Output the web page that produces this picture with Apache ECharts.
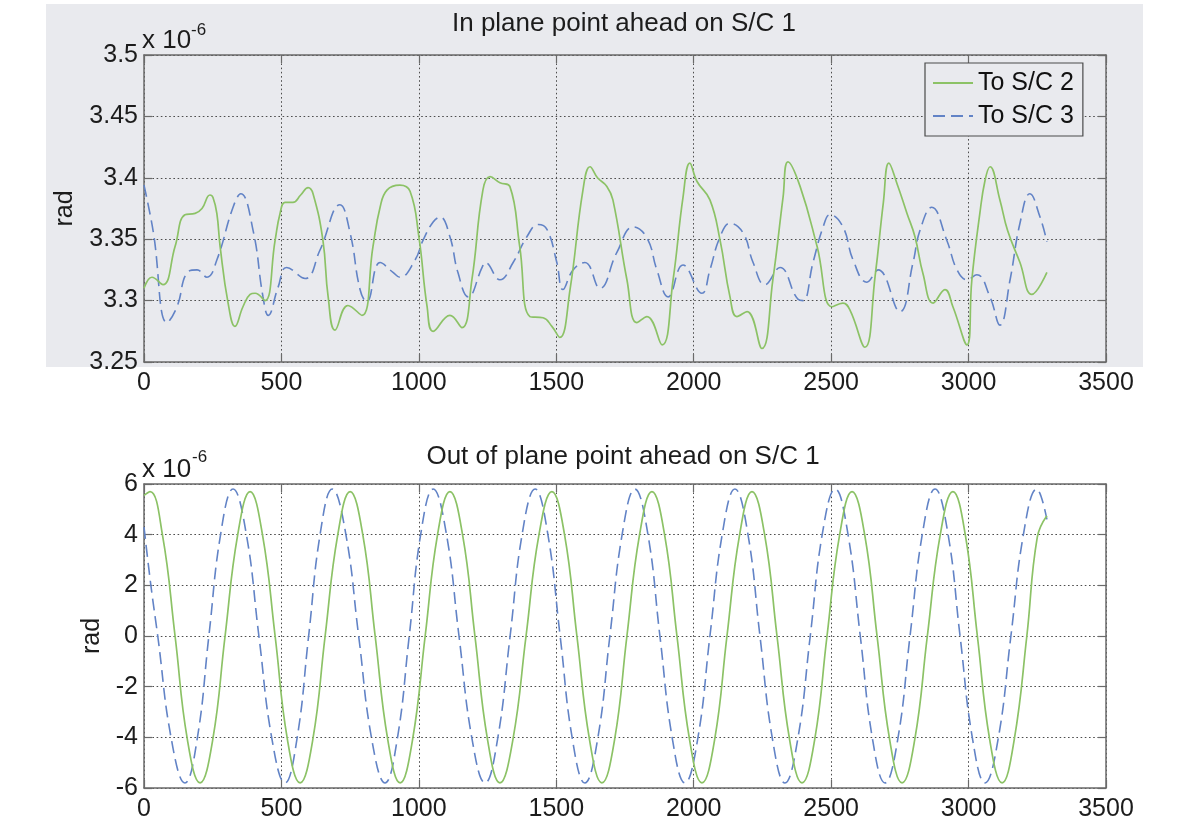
<!DOCTYPE html>
<html>
<head>
<meta charset="utf-8">
<script src="https://cdn.jsdelivr.net/npm/echarts@6/dist/echarts.min.js"></script>
<style>
  html, body { margin: 0; padding: 0; background: #ffffff; }
  #chart { width: 1180px; height: 824px; }
</style>
</head>
<body>
<div id="chart"></div>
<script>
// ---- axis ticks ----
const timeTicks = [0, 500, 1000, 1500, 2000, 2500, 3000, 3500];
const inPlaneTicks = [3.25, 3.3, 3.35, 3.4, 3.45, 3.5];        // x 10^-6 rad
const outOfPlaneTicks = [-6, -4, -2, 0, 2, 4, 6];              // x 10^-6 rad

const seriesNames = ['To S/C 2', 'To S/C 3'];
const panelTitles = ['In plane point ahead on S/C 1', 'Out of plane point ahead on S/C 1'];

// ---- in plane point ahead, towards S/C 2 (x 10^-6 rad) ----
const inPlaneSC2X = [0, 29, 69, 113, 149, 186, 211, 240, 251, 265, 277, 306, 331, 360, 386, 404, 440, 477, 495, 513, 542, 570, 597, 615, 651, 670, 695, 742, 793, 833, 859, 884, 931, 968, 1000, 1030, 1052, 1113, 1157, 1193, 1233, 1259, 1295, 1331, 1367, 1404, 1452, 1484, 1513, 1550, 1597, 1623, 1650, 1684, 1706, 1757, 1793, 1830, 1885, 1925, 1961, 1986, 2012, 2059, 2096, 2132, 2157, 2194, 2248, 2288, 2325, 2343, 2387, 2449, 2503, 2543, 2569, 2623, 2660, 2690, 2710, 2740, 2776, 2805, 2834, 2871, 2914, 2943, 2994, 3012, 3041, 3060, 3078, 3114, 3142, 3187, 3230, 3285];
const inPlaneSC2Y = [3.310, 3.319, 3.313, 3.344, 3.370, 3.371, 3.375, 3.386, 3.384, 3.371, 3.344, 3.298, 3.279, 3.295, 3.305, 3.306, 3.300, 3.349, 3.371, 3.380, 3.380, 3.386, 3.392, 3.387, 3.349, 3.303, 3.276, 3.296, 3.288, 3.344, 3.376, 3.390, 3.394, 3.389, 3.352, 3.295, 3.275, 3.288, 3.278, 3.317, 3.390, 3.401, 3.396, 3.393, 3.344, 3.287, 3.286, 3.279, 3.270, 3.309, 3.390, 3.409, 3.400, 3.393, 3.382, 3.317, 3.282, 3.287, 3.264, 3.317, 3.384, 3.412, 3.397, 3.382, 3.349, 3.303, 3.287, 3.291, 3.261, 3.317, 3.384, 3.413, 3.393, 3.344, 3.295, 3.298, 3.292, 3.262, 3.320, 3.380, 3.412, 3.395, 3.371, 3.352, 3.322, 3.298, 3.309, 3.295, 3.264, 3.317, 3.371, 3.398, 3.409, 3.382, 3.357, 3.331, 3.305, 3.323];

// ---- in plane point ahead, towards S/C 3 (x 10^-6 rad) ----
const inPlaneSC3X = [0, 33, 84, 120, 158, 193, 229, 265, 324, 352, 397, 433, 452, 488, 519, 586, 640, 713, 750, 786, 810, 859, 906, 931, 986, 1015, 1052, 1077, 1113, 1142, 1180, 1230, 1241, 1295, 1343, 1393, 1434, 1466, 1502, 1524, 1561, 1604, 1659, 1720, 1780, 1830, 1866, 1907, 1961, 2030, 2059, 2096, 2132, 2180, 2216, 2259, 2314, 2380, 2398, 2434, 2471, 2496, 2543, 2580, 2630, 2671, 2750, 2798, 2823, 2866, 2921, 2958, 2994, 3030, 3078, 3114, 3151, 3187, 3223, 3260, 3285];
const inPlaneSC3Y = [3.394, 3.357, 3.282, 3.295, 3.323, 3.325, 3.319, 3.333, 3.376, 3.387, 3.357, 3.303, 3.288, 3.311, 3.327, 3.318, 3.341, 3.378, 3.355, 3.309, 3.299, 3.331, 3.323, 3.319, 3.333, 3.349, 3.364, 3.368, 3.352, 3.323, 3.303, 3.327, 3.331, 3.317, 3.331, 3.352, 3.362, 3.358, 3.331, 3.309, 3.325, 3.331, 3.310, 3.339, 3.360, 3.351, 3.325, 3.303, 3.329, 3.306, 3.325, 3.352, 3.363, 3.355, 3.331, 3.313, 3.327, 3.301, 3.300, 3.331, 3.360, 3.370, 3.360, 3.333, 3.315, 3.325, 3.291, 3.331, 3.357, 3.376, 3.349, 3.325, 3.317, 3.321, 3.303, 3.280, 3.317, 3.363, 3.387, 3.368, 3.348];

// ---- out of plane point ahead, towards S/C 2 (x 10^-6 rad) ----
const outPlaneSC2X = [0, 22, 67, 113, 158, 204, 250, 295, 341, 386, 431, 477, 522, 568, 614, 659, 705, 750, 796, 841, 887, 932, 977, 1023, 1068, 1113, 1159, 1204, 1250, 1295, 1342, 1390, 1437, 1484, 1530, 1575, 1621, 1666, 1712, 1757, 1803, 1848, 1894, 1939, 1985, 2030, 2076, 2121, 2167, 2212, 2258, 2303, 2349, 2394, 2440, 2485, 2531, 2576, 2622, 2667, 2713, 2758, 2804, 2850, 2897, 2943, 2988, 3032, 3077, 3122, 3166, 3212, 3250, 3285];
const outPlaneSC2Y = [5.55, 5.7, 4.0, 0, -4.1, -5.8, -4.1, 0, 4.0, 5.7, 4.0, 0, -4.1, -5.8, -4.1, 0, 4.0, 5.7, 4.0, 0, -4.1, -5.8, -4.1, 0, 4.0, 5.7, 4.0, 0, -4.1, -5.8, -4.1, 0, 4.0, 5.7, 4.0, 0, -4.1, -5.8, -4.1, 0, 4.0, 5.7, 4.0, 0, -4.1, -5.8, -4.1, 0, 4.0, 5.7, 4.0, 0, -4.1, -5.8, -4.1, 0, 4.0, 5.7, 4.0, 0, -4.1, -5.8, -4.1, 0, 4.0, 5.7, 4.0, 0, -4.1, -5.8, -4.1, 0, 3.9, 4.75];

// ---- out of plane point ahead, towards S/C 3 (x 10^-6 rad) ----
const outPlaneSC3X = [0, 25, 50, 100, 149, 193, 236, 280, 324, 371, 418, 466, 513, 556, 599, 642, 685, 733, 781, 829, 877, 921, 965, 1008, 1052, 1099, 1146, 1194, 1241, 1286, 1332, 1377, 1423, 1468, 1514, 1559, 1604, 1650, 1695, 1741, 1786, 1832, 1877, 1923, 1968, 2014, 2059, 2105, 2150, 2196, 2241, 2287, 2332, 2378, 2424, 2469, 2515, 2560, 2606, 2651, 2696, 2742, 2787, 2833, 2878, 2924, 2969, 3015, 3060, 3107, 3154, 3201, 3248, 3285];
const outPlaneSC3Y = [4.3, 2.0, 0, -4.1, -5.8, -4.1, 0, 4.1, 5.8, 4.1, 0, -4.1, -5.8, -4.1, 0, 4.1, 5.8, 4.1, 0, -4.1, -5.8, -4.1, 0, 4.1, 5.8, 4.1, 0, -4.1, -5.8, -4.1, 0, 4.1, 5.8, 4.1, 0, -4.1, -5.8, -4.1, 0, 4.1, 5.8, 4.1, 0, -4.1, -5.8, -4.1, 0, 4.1, 5.8, 4.1, 0, -4.1, -5.8, -4.1, 0, 4.1, 5.8, 4.1, 0, -4.1, -5.8, -4.1, 0, 4.1, 5.8, 4.1, 0, -4.1, -5.8, -4.1, 0, 4.1, 5.8, 4.6];

// ---- styling ----
const FONT = '"Liberation Sans", Arial, Helvetica, sans-serif';
const GREEN = '#8cc266';
const BLUE = '#6283c6';
const AXIS_GREY = '#6a6a6a';
const GRID_DOT = '#4d4d4d';
const FIG_GREY = '#e9eaee';
const TEXT = '#1c1c1c';

function pairs(xs, ys) { return xs.map((x, i) => [x, ys[i]]); }
function fmtTick(v) { return String(Math.round(v * 100) / 100); }

const grids = [
  { left: 144, top: 55, width: 962, height: 307 },
  { left: 144, top: 484, width: 962, height: 304 }
];

const labelStyle = { fontFamily: FONT, fontSize: 25, color: TEXT };
const edgeLine = { show: true, onZero: false, lineStyle: { color: AXIS_GREY, width: 1.5 } };
const innerTick = { show: true, inside: true, length: 8, lineStyle: { color: AXIS_GREY, width: 1.2 } };
const dottedGrid = { show: true, lineStyle: { color: GRID_DOT, width: 1, type: [1.6, 2.6] } };

function timeAxis(gridIndex, position, withLabels) {
  return {
    type: 'value', gridIndex, position,
    min: timeTicks[0], max: timeTicks[timeTicks.length - 1], interval: timeTicks[1] - timeTicks[0],
    axisLine: edgeLine, axisTick: innerTick,
    axisLabel: withLabels ? Object.assign({ margin: 9, formatter: fmtTick }, labelStyle) : { show: false },
    splitLine: withLabels ? dottedGrid : { show: false }
  };
}
function radAxis(gridIndex, ticks, position, nameGap) {
  const main = position === 'left';
  const axis = {
    type: 'value', gridIndex, position,
    min: ticks[0], max: ticks[ticks.length - 1], interval: ticks[1] - ticks[0],
    axisLine: edgeLine, axisTick: innerTick,
    axisLabel: main ? Object.assign({ margin: 6, formatter: fmtTick }, labelStyle) : { show: false },
    splitLine: main ? dottedGrid : { show: false }
  };
  if (main) {
    Object.assign(axis, {
      name: 'rad', nameLocation: 'middle', nameGap, nameRotate: 90,
      nameTextStyle: { fontFamily: FONT, fontSize: 25, color: TEXT }
    });
  }
  return axis;
}

function lineSeries(name, axisIndex, data, dashed) {
  return {
    name, type: 'line', xAxisIndex: axisIndex, yAxisIndex: axisIndex, data,
    smooth: 0.45, showSymbol: false, symbol: 'none', animation: false,
    lineStyle: dashed
      ? { color: BLUE, width: 1.6, type: [12, 6] }
      : { color: GREEN, width: 1.7, type: 'solid' },
    itemStyle: { color: dashed ? BLUE : GREEN },
    z: dashed ? 3 : 4
  };
}

// scale label "x 10^-6" above each panel's y axis
function scaleLabel(xBase, yBase, xExp, yExp) {
  return [
    { type: 'text', x: xBase, y: yBase, z: 10,
      style: { text: 'x 10', font: '26px ' + FONT, fill: TEXT, verticalAlign: 'middle' } },
    { type: 'text', x: xExp, y: yExp, z: 10,
      style: { text: '-6', font: '17px ' + FONT, fill: TEXT, verticalAlign: 'middle' } }
  ];
}

const chart = echarts.init(document.getElementById('chart'), null, { renderer: 'canvas' });

chart.setOption({
  animation: false,
  backgroundColor: '#ffffff',
  grid: grids.map(g => Object.assign({ containLabel: false }, g)),
  xAxis: [timeAxis(0, 'bottom', true), timeAxis(0, 'top', false), timeAxis(1, 'bottom', true), timeAxis(1, 'top', false)],
  yAxis: [
    radAxis(0, inPlaneTicks, 'left', 66), radAxis(0, inPlaneTicks, 'right'),
    radAxis(1, outOfPlaneTicks, 'left', 30), radAxis(1, outOfPlaneTicks, 'right')
  ],
  legend: {
    data: seriesNames,
    orient: 'vertical',
    left: 925, top: 63,
    itemWidth: 40, itemHeight: 14, itemGap: 3,
    padding: [5, 9, 5, 7],
    borderColor: '#4a4a4a', borderWidth: 1.2,
    backgroundColor: FIG_GREY,
    itemStyle: { opacity: 0 },
    lineStyle: { opacity: 1 },
    textStyle: { fontFamily: FONT, fontSize: 25, color: '#111', lineHeight: 30 }
  },
  series: [
    lineSeries(seriesNames[0], 0, pairs(inPlaneSC2X, inPlaneSC2Y), false),
    lineSeries(seriesNames[1], 0, pairs(inPlaneSC3X, inPlaneSC3Y), true),
    lineSeries(seriesNames[0], 2, pairs(outPlaneSC2X, outPlaneSC2Y), false),
    lineSeries(seriesNames[1], 2, pairs(outPlaneSC3X, outPlaneSC3Y), true)
  ],
  graphic: [
    { type: 'rect', z: -100, silent: true,
      shape: { x: 46, y: 4, width: 1097, height: 363 },
      style: { fill: FIG_GREY } },
    { type: 'text', x: 624, y: 24, z: 10,
      style: { text: panelTitles[0], font: '26px ' + FONT, fill: TEXT, align: 'center', verticalAlign: 'middle' } },
    { type: 'text', x: 623, y: 457, z: 10,
      style: { text: panelTitles[1], font: '26px ' + FONT, fill: TEXT, align: 'center', verticalAlign: 'middle' } }
  ].concat(scaleLabel(142, 41, 191, 30), scaleLabel(142, 470, 192, 457))
});
</script>
</body>
</html>
